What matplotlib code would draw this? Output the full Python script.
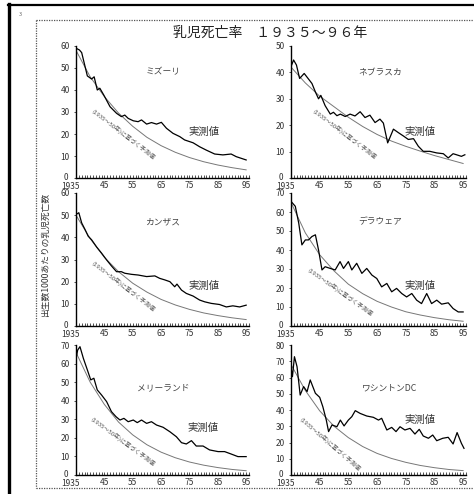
import matplotlib
matplotlib.use('Agg')
import matplotlib.pyplot as plt
import matplotlib.transforms as mtrans

plt.rcParams['font.family'] = ['Noto Sans CJK JP', 'DejaVu Sans']

# ---------------- data ----------------
title = "乳児死亡率　１９３５～９６年"
ylabel = "出生数1000あたりの乳児死亡数"
actual_label = "実測値"
pred_label = "(1935～50年)に基づく予測値"
xtick_years = [1935, 1945, 1955, 1965, 1975, 1985, 1995]
xtick_labels = ["1935", "45", "55", "65", "75", "85", "95"]
pred_years = [1935, 1940, 1945, 1950, 1955, 1960, 1965, 1970, 1975, 1980, 1985, 1990, 1995]

mo_name = "ミズーリ"
mo_years = [1935, 1936.2, 1937, 1939, 1940.5, 1941.4, 1942.5, 1943.4, 1944.8, 1947, 1949.3, 1951,
            1952.2, 1953.4, 1955.2, 1956.9, 1958.1, 1959.9, 1961.6, 1963.4, 1965.1, 1966.9, 1969.2,
            1971.6, 1973.3, 1976.3, 1978.6, 1980.9, 1983.9, 1986.8, 1989.7, 1991.5, 1995]
mo_vals = [59, 58.2, 57, 46.4, 45, 46, 40, 40.8, 37.7, 32.4, 29.4, 27.9, 28.6, 27.1, 26, 25.6, 26.4,
           24.5, 25.2, 24.5, 25.3, 22.6, 20.3, 18.8, 17.3, 16, 14.2, 12.7, 10.9, 10.5, 10.9, 9.7, 8.2]
mo_pred = [58, 46, 37, 29.5, 23.5, 18.5, 14.7, 11.7, 9.3, 7.4, 5.9, 4.7, 3.7]

ne_name = "ネブラスカ"
ne_years = [1935, 1935.9, 1936.9, 1938, 1939.6, 1942.3, 1943.5, 1944.6, 1945.4, 1946.9, 1948.7,
            1949.8, 1951, 1952.2, 1953.9, 1955.6, 1957.3, 1959.1, 1960.8, 1962.5, 1964.3, 1966,
            1967.2, 1968.7, 1970.7, 1972.4, 1974.2, 1975.9, 1977.7, 1979.4, 1981.1, 1983.4, 1985.8,
            1988.1, 1989.8, 1991.5, 1992.7, 1994.4, 1995.6]
ne_vals = [42.2, 44.7, 42.8, 37.7, 39.6, 35.8, 32.6, 30, 31.3, 27.4, 24.2, 24.9, 23.6, 24.2, 23.3,
           24.2, 23.5, 25.1, 22.9, 23.8, 21, 22.3, 20.8, 13.3, 18.5, 17.2, 15.9, 14.6, 14.9, 12,
           10.1, 10.1, 9.5, 9.2, 7.6, 9.2, 8.8, 8.2, 8.8]
ne_pred = [42, 36, 31, 27, 23, 19.5, 16.5, 14, 12, 10.2, 8.5, 7, 5.5]

ks_name = "カンザス"
ks_years = [1935, 1936, 1937, 1938.2, 1939.3, 1940.5, 1942.3, 1944, 1945.8, 1947.5, 1949.3, 1951,
            1952.2, 1954.6, 1956.9, 1959.9, 1962.8, 1964.5, 1966.3, 1968.1, 1969.8, 1970.6, 1972.2,
            1973.9, 1976.3, 1978.6, 1980.4, 1982.7, 1985.6, 1988, 1990.3, 1992.7, 1995]
ks_vals = [50.3, 51.1, 46.5, 43.5, 40.5, 38.9, 35.6, 32.9, 29.8, 27.1, 24.5, 24.5, 23.8, 23.3, 23,
           22.3, 22.6, 21.5, 20.8, 20, 17.7, 18.9, 16.2, 14.7, 13.5, 11.7, 10.9, 10.2, 9.7, 8.6,
           9.1, 8.6, 9.4]
ks_pred = [50, 39.4, 31, 24.5, 19.3, 15.3, 12, 9.5, 7.5, 5.9, 4.7, 3.7, 2.9]

de_name = "デラウェア"
de_years = [1935, 1936.5, 1937.7, 1938.8, 1940, 1941.1, 1942.3, 1943.5, 1944.6, 1945.8, 1946.9,
            1948.7, 1950.4, 1952.1, 1953.3, 1955, 1956.2, 1957.9, 1959.7, 1961.4, 1963.2, 1964.9,
            1966.6, 1968.4, 1970.1, 1971.8, 1973.6, 1975.3, 1977.1, 1978.8, 1980.5, 1982.3, 1984,
            1985.8, 1987.5, 1989.8, 1991.5, 1993.3, 1995]
de_vals = [65.6, 63, 54.1, 42.7, 45.3, 45.3, 47.1, 48, 40, 29.5, 31.2, 30.3, 29.5, 33.9, 30.3, 33.9,
           29.5, 33, 27.7, 30.3, 26.8, 25, 20.6, 22.4, 18, 19.8, 17.1, 15.3, 17.1, 13.6, 11.8, 17.1,
           11.8, 13.6, 11.5, 12.2, 9.2, 7.4, 7.4]
de_pred = [65, 49, 37.5, 29, 22, 17, 13, 10, 7.5, 5.8, 4.4, 3.3, 2.5]

md_name = "メリーランド"
md_years = [1935, 1935.6, 1936.4, 1937.6, 1939, 1940.2, 1941.3, 1942.5, 1944, 1945.8, 1947.5,
            1949.1, 1950.5, 1951.9, 1953.4, 1955.2, 1956.6, 1958.1, 1959.9, 1961.6, 1963.4, 1965.7,
            1968.1, 1970.4, 1972.2, 1973.9, 1975.7, 1977.4, 1979.8, 1982.1, 1985.1, 1987.4, 1989.7,
            1992.1, 1995]
md_vals = [62.8, 67.3, 69.1, 62.8, 56.6, 51.2, 52.1, 45.8, 43.1, 39.5, 34.1, 31.4, 29.6, 30.5, 28.7,
           29.6, 28.2, 29.6, 27.8, 28.7, 26.9, 25.7, 23.3, 20.6, 17.4, 16.7, 18.5, 15.6, 15.6, 13.5,
           12.6, 12.6, 11.3, 9.9, 9.9]
md_pred = [66, 50, 38, 28.5, 21.6, 16.3, 12.3, 9.3, 7, 5.3, 4, 3, 2.3]

dc_name = "ワシントンDC"
dc_years = [1935, 1935.5, 1936.2, 1937.1, 1938.2, 1939.4, 1940.6, 1941.7, 1943.5, 1945, 1946.1,
            1947.3, 1948.1, 1949.3, 1951, 1952.2, 1953.5, 1955, 1956.2, 1957.4, 1959.1, 1961.4,
            1963.7, 1965.5, 1966.6, 1968.4, 1970.1, 1971.6, 1973, 1974.7, 1976.5, 1978.2, 1979.7,
            1981.1, 1982.9, 1984.4, 1985.8, 1987.9, 1989.8, 1991.5, 1992.9, 1994.4, 1995.3]
dc_vals = [66.7, 60.5, 72.8, 66.7, 49.2, 54.4, 51.3, 58.5, 50.3, 47.8, 42, 33.8, 26.7, 30.8, 29.7,
           33.8, 30.2, 33.8, 35.9, 39.6, 37.9, 36.3, 35.5, 33.8, 34.9, 27.7, 29.3, 26.7, 29.7, 27.7,
           28.7, 25.2, 28.1, 24, 22.6, 24.6, 21.1, 22.6, 23.2, 19.1, 26.1, 19.5, 16.4]
dc_pred = [68, 52, 39.5, 30, 23, 17.5, 13.3, 10.2, 7.8, 5.9, 4.5, 3.4, 2.7]

# ---------------- layout ----------------
W, H = 474, 494
fig = plt.figure(figsize=(W / 100, H / 100), dpi=100)
fig.patch.set_facecolor('white')


def fx(x):
    return x / W


def fy(y):
    return 1 - y / H


# outer frame
fig.add_artist(plt.Line2D([fx(9), fx(9)], [fy(4), fy(494)], color='black', lw=2.4))
fig.add_artist(plt.Line2D([fx(8), fx(474)], [fy(5), fy(5)], color='black', lw=1.6))
# dotted inner box (open on the right)
for xs, ys in [((36, 474), (20, 20)), ((36, 474), (488, 488)), ((36, 36), (20, 488))]:
    fig.add_artist(plt.Line2D([fx(xs[0]), fx(xs[1])], [fy(ys[0]), fy(ys[1])],
                              color='#555555', lw=0.9, ls=(0, (1, 1))))
fig.text(fx(20), fy(14), "3", fontsize=4, color='#666666', ha='center', va='center')

fig.text(fx(270), fy(33), title, fontsize=10, color='#222222', ha='center', va='center')
fig.text(fx(45), fy(255), ylabel, fontsize=6.3, color='#333333', ha='center', va='center',
         rotation=90)

panels = [
    (mo_name, mo_years, mo_vals, mo_pred, 60, (76, 46, 249, 178), (163, 72), (204, 132), (123, 134), -37.8),
    (ne_name, ne_years, ne_vals, ne_pred, 50, (291, 46, 466, 178), (380, 72), (420, 132), (344, 134), -37.4),
    (ks_name, ks_years, ks_vals, ks_pred, 60, (76, 193, 249, 326), (163, 222), (204, 286), (123, 286), -37.8),
    (de_name, de_years, de_vals, de_pred, 70, (291, 193, 466, 326), (380, 222), (420, 286), (340, 292), -35.5),
    (md_name, md_years, md_vals, md_pred, 70, (76, 345, 249, 475), (163, 388), (203, 428), (123, 442), -36.5),
    (dc_name, dc_years, dc_vals, dc_pred, 80, (291, 345, 466, 475), (390, 388), (420, 420), (330, 444), -41),
]

shift_left = mtrans.ScaledTranslation(-6 / 100, -1 / 100, fig.dpi_scale_trans)

for name, yrs, vals, pred, ymax, box, tpos, apos, ppos, ang in panels:
    x0, y0, x1, y1 = box
    ax = fig.add_axes([fx(x0), fy(y1), (x1 - x0) / W, (y1 - y0) / H])
    ax.plot(pred_years, pred, color='#777777', lw=0.7)
    ax.plot(yrs, vals, color='black', lw=0.9)
    ax.set_xlim(1935, 1996)
    ax.set_ylim(0, ymax)
    ax.spines['top'].set_visible(False)
    ax.spines['right'].set_visible(False)
    ax.spines['left'].set_linewidth(1.0)
    ax.spines['bottom'].set_linewidth(1.0)
    ax.set_xticks(xtick_years)
    ax.set_xticklabels(xtick_labels)
    ax.set_xticks(range(1935, 1997), minor=True)
    ax.set_yticks(range(0, ymax + 1, 10))
    ax.tick_params(axis='x', which='both', direction='in', length=2, width=0.6,
                   labelsize=6, pad=2, colors='#333333')
    ax.tick_params(axis='y', which='both', direction='out', length=1.5, width=0.6,
                   labelsize=6, pad=3, colors='#333333')
    first = ax.get_xticklabels()[0]
    first.set_transform(first.get_transform() + shift_left)
    ylab0 = ax.get_yticklabels()[0]
    ylab0.set_transform(ylab0.get_transform() + mtrans.ScaledTranslation(-2 / 100, 2 / 100, fig.dpi_scale_trans))
    ax.patch.set_alpha(0)
    fig.text(fx(tpos[0]), fy(tpos[1]), name, fontsize=6.3, color='#444444', ha='center', va='center')
    fig.text(fx(apos[0]), fy(apos[1]), actual_label, fontsize=7.5, color='#333333', ha='center', va='center')
    fig.text(fx(ppos[0]), fy(ppos[1]), pred_label, fontsize=4.3, color='#555555', ha='center', va='center',
             rotation=ang, rotation_mode='anchor')

fig.savefig('out.png', dpi=100, facecolor='white')
